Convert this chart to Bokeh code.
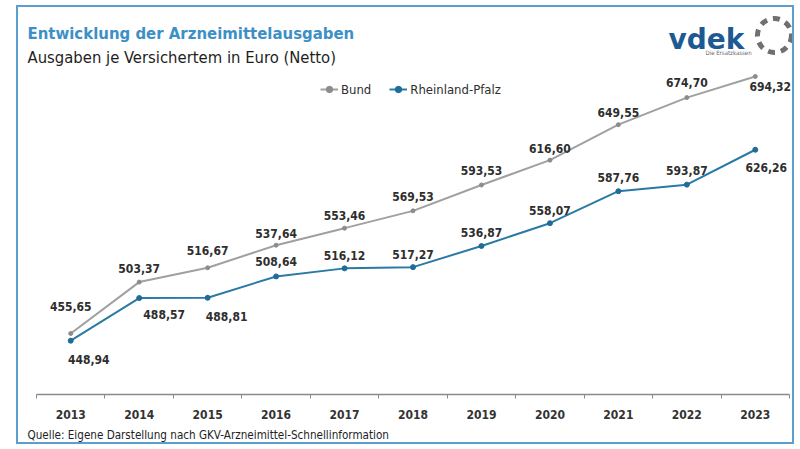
from bokeh.plotting import figure
from bokeh.models import (ColumnDataSource, Label, Legend, LegendItem, FixedTicker,
                          Range1d, Title)
from bokeh.core.properties import value
from bokeh.embed import file_html
from bokeh.resources import INLINE

# ---------------- data ----------------
YEARS = [2013, 2014, 2015, 2016, 2017, 2018, 2019, 2020, 2021, 2022, 2023]
YEAR_LABELS = ["2013", "2014", "2015", "2016", "2017", "2018", "2019", "2020", "2021", "2022", "2023"]
BUND = [455.65, 503.37, 516.67, 537.64, 553.46, 569.53, 593.53, 616.60, 649.55, 674.70, 694.32]
RLP = [448.94, 488.57, 488.81, 508.64, 516.12, 517.27, 536.87, 558.07, 587.76, 593.87, 626.26]
BUND_TEXT = ["455,65", "503,37", "516,67", "537,64", "553,46", "569,53", "593,53", "616,60", "649,55", "674,70", "694,32"]
RLP_TEXT = ["448,94", "488,57", "488,81", "508,64", "516,12", "517,27", "536,87", "558,07", "587,76", "593,87", "626,26"]
SERIES_NAMES = ["Bund", "Rheinland-Pfalz"]
TITLE = "Entwicklung der Arzneimittelausgaben"
SUBTITLE = "Ausgaben je Versichertem in Euro (Netto)"
SOURCE = "Quelle: Eigene Darstellung nach GKV-Arzneimittel-Schnellinformation"

# label placement (styling, pixels)
BUND_DX = [0, 0, 0, 0, 0, 0, 0, 0, 0, 0, 15]
BUND_DY = [-27, -14, -17, -12, -13, -14, -15, -12, -12, -15, 10]
RLP_DX = [18, 25, 19, 0, 0, 0, 0, 0, 0, 0, 11]
RLP_DY = [19, 16, 19, -15, -13, -13, -14, -13, -14, -14, 18]

FONT = "DejaVu Sans Condensed"
GRAY = "#a0a0a0"
BLUE = "#2a7aa6"
TXT = "#2e2e2e"

W, H = 778, 439
p = figure(width=W, height=H, output_backend="svg", toolbar_location=None,
           x_range=Range1d(2012.237, 2023.602), y_range=Range1d(399, 758.35),
           min_border_left=0, min_border_right=0, min_border_top=0, min_border_bottom=52,
           y_axis_location=None)
p.styles = {"border": "2px solid #5b9fd0", "margin-left": "16px", "margin-top": "5px"}
p.outline_line_color = None
p.grid.visible = False
p.background_fill_color = "white"
p.border_fill_color = "white"

# x axis
ax = p.xaxis[0]
ax.bounds = (YEARS[0] - 0.5, YEARS[-1] + 0.5)
ax.ticker = FixedTicker(ticks=YEARS, minor_ticks=[y - 0.5 for y in YEARS] + [YEARS[-1] + 0.5])
ax.major_label_overrides = {y: l for y, l in zip(YEARS, YEAR_LABELS)}
ax.major_tick_line_color = None
ax.major_tick_out = 0
ax.major_tick_in = 0
ax.minor_tick_out = 4
ax.minor_tick_in = 0
ax.minor_tick_line_color = "#8a8a8a"
ax.axis_line_color = "#8a8a8a"
ax.axis_line_width = 1.5
ax.major_label_standoff = 11
ax.major_label_text_font = FONT
ax.major_label_text_font_size = "12px"
ax.major_label_text_font_style = "bold"
ax.major_label_text_color = "#333333"

src = ColumnDataSource(dict(x=YEARS, bund=BUND, rlp=RLP, bt=BUND_TEXT, rt=RLP_TEXT,
                            bdx=BUND_DX, bdy=BUND_DY, rdx=RLP_DX, rdy=RLP_DY))

l1 = p.line("x", "bund", source=src, line_color=GRAY, line_width=2)
s1 = p.scatter("x", "bund", source=src, size=4, fill_color="#8c8c8c", line_color="#8c8c8c")
l2 = p.line("x", "rlp", source=src, line_color=BLUE, line_width=2)
s2 = p.scatter("x", "rlp", source=src, size=5, fill_color="#1f6c98", line_color="#1f6c98")

p.text("x", "bund", text="bt", source=src, x_offset="bdx", y_offset="bdy",
       text_align="center", text_baseline="middle", text_font=value(FONT),
       text_font_size="12px", text_font_style="bold", text_color=TXT)
p.text("x", "rlp", text="rt", source=src, x_offset="rdx", y_offset="rdy",
       text_align="center", text_baseline="middle", text_font=value(FONT),
       text_font_size="12px", text_font_style="bold", text_color=TXT)

legend = Legend(items=[LegendItem(label=SERIES_NAMES[0], renderers=[l1, s1]),
                       LegendItem(label=SERIES_NAMES[1], renderers=[l2, s2])],
                orientation="horizontal", location=(302, 297),
                padding=0, margin=0, spacing=18, label_standoff=3,
                glyph_width=18, glyph_height=16,
                label_text_font=FONT, label_text_font_size="13px", label_text_color=TXT,
                border_line_color=None, background_fill_alpha=0)
p.add_layout(legend, "center")

# titles
p.add_layout(Label(x=9, y=361, x_units="screen", y_units="screen", text=TITLE,
                   text_font=FONT, text_font_size="16.6px", text_font_style="bold",
                   text_color="#3d90c6", text_baseline="alphabetic"))
p.add_layout(Label(x=9, y=337, x_units="screen", y_units="screen", text=SUBTITLE,
                   text_font=FONT, text_font_size="16.5px", text_color="#1e1e1e",
                   text_baseline="alphabetic"))
p.add_layout(Title(text=SOURCE, align="left", offset=9, standoff=9,
                   text_font=FONT, text_font_size="11.6px", text_font_style="normal",
                   text_color="#1e1e1e"), "below")

# logo
p.add_layout(Label(x=650, y=355, x_units="screen", y_units="screen", text="vdek",
                   text_font="DejaVu Sans", text_font_size="28px", text_font_style="bold",
                   text_color="#1d5a94", text_baseline="alphabetic"))
p.add_layout(Label(x=687, y=342, x_units="screen", y_units="screen", text="Die Ersatzkassen",
                   text_font=FONT, text_font_size="6px", text_color="#666666",
                   text_baseline="middle"))
LOGO_X, LOGO_Y = [2023.28], [732.35]
p.scatter(LOGO_X, LOGO_Y, size=34, fill_alpha=0, line_color="#707070", line_width=5,
          line_dash="7 6")

open("out.html", "w").write(file_html(p, INLINE))
